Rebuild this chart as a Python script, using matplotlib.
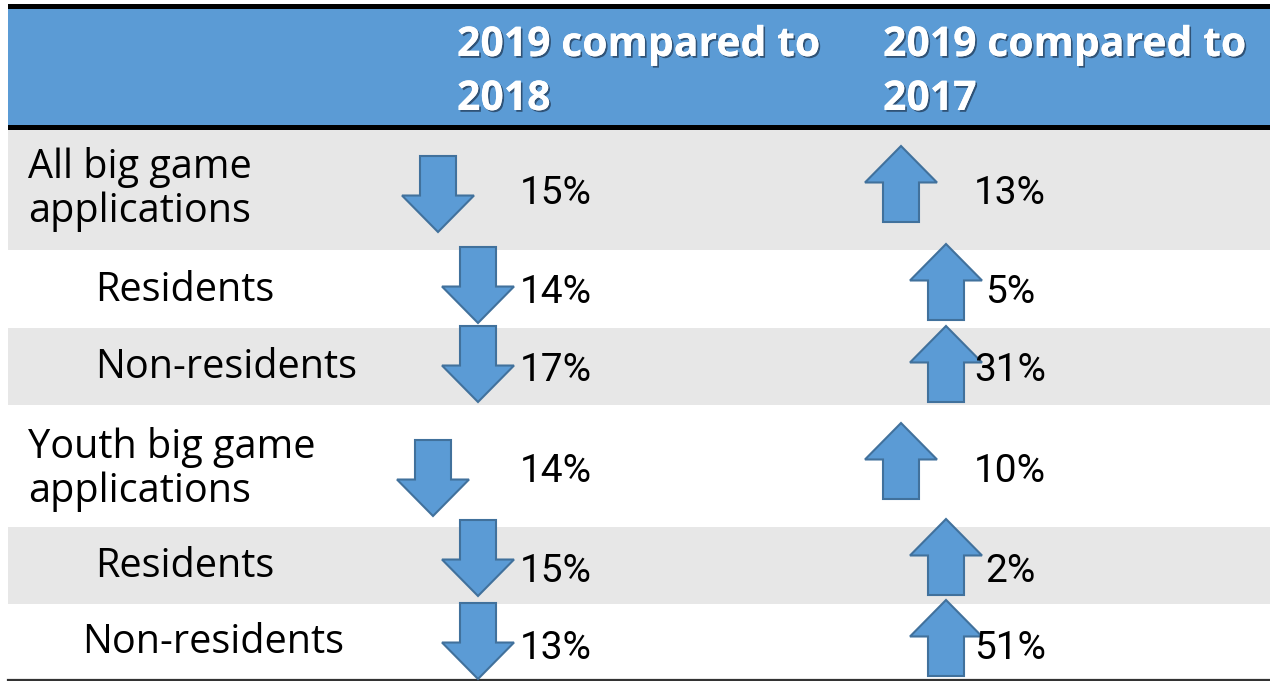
import matplotlib
matplotlib.use("Agg")
import matplotlib.pyplot as plt
import matplotlib.patheffects as pe
from matplotlib.patches import Polygon, Rectangle

# ---- data ----
row_labels = [["All big game", "applications"], ["Residents"], ["Non-residents"],
              ["Youth big game", "applications"], ["Residents"], ["Non-residents"]]
headers = [["2019 compared to", "2018"], ["2019 compared to", "2017"]]
change_vs_2018 = [-15, -14, -17, -14, -15, -13]
change_vs_2017 = [13, 5, 31, 10, 2, 51]

# ---- layout (pixel coordinates, y downward) ----
W, H = 1270, 681
left = 8
row_edges = [129, 250, 328, 405, 527, 604, 679]
row_fill = ["#E7E7E7", "#FFFFFF"]
label_x = [28, 95, 95, 28, 95, 82]
label_base = [[178, 222], [301], [378], [458, 502], [577], [653]]
pct_x = [556, 1010]
pct_base = [204, 303, 381, 482, 582, 659]
arrow_x = [[438, 478, 478, 433, 478, 478], [901, 946, 946, 901, 946, 946]]
arrow_mid = [[194, 285, 364, 478, 558, 641], [184, 282, 364, 461, 557, 638]]
header_x = [457, 883]
header_base = [56, 110]

ARROW_FILL = "#5B9BD5"
ARROW_EDGE = "#41719C"

fig = plt.figure(figsize=(W / 100, H / 100), dpi=100)
ax = fig.add_axes([0, 0, 1, 1])
ax.set_xlim(0, W)
ax.set_ylim(H, 0)
ax.axis("off")

# header
ax.add_patch(Rectangle((left, 9), W - left, 116, facecolor="#5B9BD5", edgecolor="none", zorder=1))
ax.add_patch(Rectangle((left, 3.5), W - left, 5.5, facecolor="black", edgecolor="none", zorder=2))
ax.add_patch(Rectangle((left, 125), W - left, 4.5, facecolor="black", edgecolor="none", zorder=2))

# body rows
for i in range(len(row_labels)):
    y0, y1 = row_edges[i], row_edges[i + 1]
    ax.add_patch(Rectangle((left, y0), W - left, y1 - y0, facecolor=row_fill[i % 2],
                           edgecolor="none", zorder=1))
ax.plot([left, W], [row_edges[-1] + 0.5, row_edges[-1] + 0.5], color="#333333", lw=1.6, zorder=2)

shadow = [pe.withSimplePatchShadow(offset=(1.3, -1.3), shadow_rgbFace="#1e3550", alpha=0.7), pe.Normal()]
for j, hdr in enumerate(headers):
    for k, line in enumerate(hdr):
        ax.text(header_x[j], header_base[k], line, family="Open Sans", weight="bold",
                fontsize=29.5, color="white", ha="left", va="baseline",
                path_effects=shadow, zorder=5)

for i, lines in enumerate(row_labels):
    for k, line in enumerate(lines):
        ax.text(label_x[i], label_base[i][k], line, family="Open Sans", fontsize=28.5,
                color="black", ha="left", va="baseline", zorder=5)


def arrow(cx, cy, up, length=76, head_frac=0.48, shaft_hw=18, head_hw=36):
    hl = length * head_frac
    if up:
        tip = cy - length / 2
        base = cy + length / 2
        hb = tip + hl
    else:
        tip = cy + length / 2
        base = cy - length / 2
        hb = tip - hl
    pts = [(cx - shaft_hw, base), (cx + shaft_hw, base), (cx + shaft_hw, hb),
           (cx + head_hw, hb), (cx, tip), (cx - head_hw, hb), (cx - shaft_hw, hb)]
    ax.add_patch(Polygon(pts, closed=True, facecolor=ARROW_FILL, edgecolor=ARROW_EDGE,
                         lw=1.5, joinstyle="miter", zorder=4))


for j, series in enumerate([change_vs_2018, change_vs_2017]):
    for i, v in enumerate(series):
        arrow(arrow_x[j][i], arrow_mid[j][i], v > 0)
        ax.text(pct_x[j], pct_base[i], f"{abs(v)}%", family="Roboto", fontsize=28,
                color="black", ha="center", va="baseline", zorder=5)

fig.savefig("out.png", dpi=100)
